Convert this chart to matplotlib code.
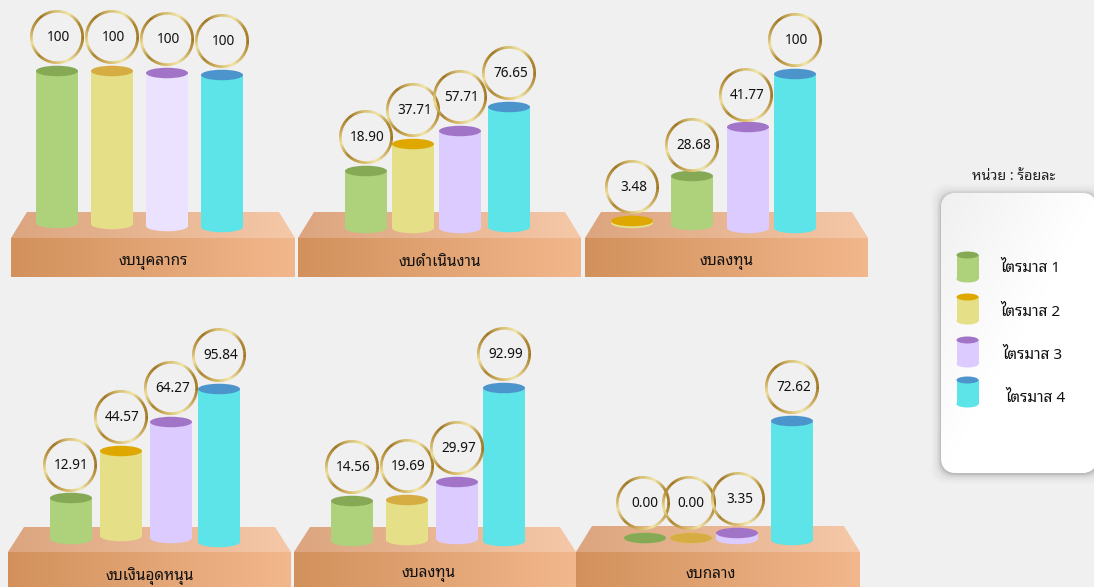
import numpy as np
import matplotlib
matplotlib.use("Agg")
import matplotlib.pyplot as plt
from matplotlib.colors import LinearSegmentedColormap, to_rgb
from matplotlib.patches import Ellipse, FancyBboxPatch, Polygon, Wedge

THAI = ['Noto Sans Thai Looped', 'Noto Sans Thai', 'Sarabun', 'Noto Sans', 'DejaVu Sans']
plt.rcParams['font.family'] = THAI

W, H = 1094, 587
BG = '#f0f0f0'

# budget groups and the labelled percentage of each quarter
groups = ['งบบุคลากร', 'งบดำเนินงาน', 'งบลงทุน', 'งบเงินอุดหนุน', 'งบลงทุน', 'งบกลาง']
quarters = ['ไตรมาส 1', 'ไตรมาส 2', 'ไตรมาส 3', 'ไตรมาส 4']
unit_label = 'หน่วย : ร้อยละ'

personnel = ['100', '100', '100', '100']
operating = ['18.90', '37.71', '57.71', '76.65']
investment = ['3.48', '28.68', '41.77', '100']
subsidy = ['12.91', '44.57', '64.27', '95.84']
investment2 = ['14.56', '19.69', '29.97', '92.99']
central = ['0.00', '0.00', '3.35', '72.62']

# the columns in the picture are hand sized, not proportional to the labels
personnel_h = [152, 153, 153, 152]
operating_h = [57, 84, 97, 120]
investment_h = [2, 49, 101, 154]
subsidy_h = [41, 85, 116, 153]
investment2_h = [40, 40, 57, 153]
central_h = [0, 0, 6, 119]

panel_values = [personnel, operating, investment, subsidy, investment2, central]
panel_heights = [personnel_h, operating_h, investment_h, subsidy_h, investment2_h, central_h]

# layout, image pixels: platform left, right, top, front top, front bottom
panels = [(11, 295, 212, 238, 277), (298, 581, 212, 238, 277), (585, 868, 212, 238, 277),
          (8, 291, 527, 552, 592), (294, 576, 527, 552, 592), (576, 860, 526, 552, 592)]
label_pos = [(153, 263), (440, 263), (727, 263), (150, 576), (429, 575), (711, 575)]
bar_x = [[57, 112, 167, 222], [366, 413, 460, 509], [632, 692, 748, 795],
         [71, 121, 171, 219], [352, 407, 457, 504], [645, 691, 737, 792]]
bar_base = [[223, 224, 226, 227], [228, 228, 228, 227], [223, 225, 228, 228],
            [539, 536, 538, 542], [541, 540, 539, 541], [538, 538, 539, 540]]
# rings that do not sit square on their column: (panel, bar) -> dx, dy
ring_shift = {(2, 1): (0, 3), (2, 2): (-2, 2), (3, 0): (-1, 1),
              (5, 0): (-2, -1), (5, 1): (-2, -1), (5, 2): (1, 0)}

body_colors = ['#aed17c', '#e5df87', '#dccbff', '#5ce4e8']
cap_colors = ['#86a955', '#dfa800', '#a274c8', '#4c94cc']
ring_stops = ['#a0761f', '#c9a95a', '#f1e6a6', '#d2b25c', '#a8802a', '#eedf98',
              '#c09a45', '#9c7420', '#d4bb6c', '#f1e6a6', '#ad852e', '#a0761f']

BAR_W = 42
CAP_H = 10.5
RING_R = 27
RING_LIFT = 34


def pixel_axes(x0, x1, y0, y1, zorder=1):
    # axes whose data coordinates are the image pixels they cover
    ax = fig.add_axes([x0 / W, 1 - y1 / H, (x1 - x0) / W, (y1 - y0) / H], zorder=zorder)
    ax.set_xlim(x0, x1)
    ax.set_ylim(y1, y0)
    ax.axis('off')
    return ax


def gradient(ax, verts, c0, c1):
    # left to right colour ramp clipped to a polygon
    cmap = LinearSegmentedColormap.from_list('g', [c0, c1])
    xlim, ylim = ax.get_xlim(), ax.get_ylim()
    clip = Polygon(verts, closed=True, transform=ax.transData, fc='none', ec='none')
    bb = clip.get_path().get_extents()
    ax.add_patch(clip)
    ramp = np.linspace(0, 1, 256).reshape(1, -1)
    im = ax.imshow(ramp, cmap=cmap, extent=(bb.x0, bb.x1, bb.y1, bb.y0),
                   aspect='auto', interpolation='bilinear', zorder=1)
    im.set_clip_path(clip)
    ax.set_xlim(xlim)
    ax.set_ylim(ylim)


def cylinder(ax, x, base, height, body, cap, w=BAR_W, cap_h=CAP_H, z=3):
    top = base - height
    ax.add_patch(Ellipse((x, base), w, cap_h, fc=body, ec='none', zorder=z, clip_on=False))
    ax.bar([x], [-height], width=w, bottom=base, color=body, linewidth=0, zorder=z, clip_on=False)
    ax.add_patch(Ellipse((x, top), w, cap_h, fc=cap, ec='none', zorder=z + 0.1, clip_on=False))


def gold_ring(ax, x, y, r=RING_R, width=2.7, z=5):
    pos = np.linspace(0, 1, len(ring_stops))
    rgb = np.array([to_rgb(c) for c in ring_stops])
    n = 90
    for i in range(n):
        t = i / n
        col = [np.interp(t, pos, rgb[:, k]) for k in range(3)]
        ax.add_patch(Wedge((x, y), r, 360 * t, 360 * (t + 1 / n) + 0.6, width=width,
                           fc=col, ec='none', zorder=z, clip_on=False))


fig = plt.figure(figsize=(W / 100, H / 100), dpi=100, facecolor=BG)

for i, (x0, x1, top, front, bottom) in enumerate(panels):
    row_top, row_bottom = (0, 290) if i < 3 else (290, H)
    ax = pixel_axes(x0 - 3, x1 + 3, row_top, row_bottom, zorder=2 + i)

    # platform: sloped top then front face
    inset = 16
    gradient(ax, [(x0, front), (x1, front), (x1 - inset, top), (x0 + inset, top)], '#dca57f', '#f5c8a8')
    gradient(ax, [(x0, front), (x1, front), (x1, bottom), (x0, bottom)], '#d2915c', '#f2b78c')
    ax.text(label_pos[i][0], label_pos[i][1], groups[i], ha='center', va='center',
            fontsize=11, color='#111111', zorder=8)

    heights = panel_heights[i]
    values = panel_values[i]
    for j in range(4):
        x = bar_x[i][j]
        base = bar_base[i][j]
        # the third panel has its first two colours swapped in the picture
        k = [1, 0, 2, 3][j] if i == 2 else j
        body = body_colors[k]
        cap = cap_colors[k]
        if i == 0 and j == 2:
            body = '#ebe2ff'
        if j == 1 and i in (0, 4, 5):
            cap = '#d6ad42'
        cylinder(ax, x, base, heights[j], body, cap)
        dx, dy = ring_shift.get((i, j), (0, 0))
        ring_y = base - heights[j] - RING_LIFT + dy
        gold_ring(ax, x + dx, ring_y)
        ax.text(x + dx + 1.5, ring_y + 0.5, values[j], ha='center', va='center', fontsize=9.8,
                family='Noto Sans', color='#111111', zorder=9)

# legend card on the right
lg = pixel_axes(900, W, 0, H, zorder=20)
card_box = dict(boxstyle='round,pad=0,rounding_size=16')
for grow, alpha in zip([10, 8, 6, 4, 2.5, 1], [0.012, 0.015, 0.02, 0.03, 0.05, 0.09]):
    lg.add_patch(FancyBboxPatch((941 - grow, 193 - grow + 1), 156 + 2 * grow, 280 + 2 * grow, fc='black', ec='none',
                                alpha=alpha, zorder=1, clip_on=False, **card_box))
card = FancyBboxPatch((941, 193), 156, 280, fc='white', ec='none', zorder=2, **card_box)
lg.add_patch(card)
cmap = LinearSegmentedColormap.from_list('card', ['#f0f0f0', '#ffffff', '#ffffff'])
xx, yy = np.meshgrid(np.linspace(0, 1, 64), np.linspace(0, 1, 64))
im = lg.imshow((xx + yy) / 2, cmap=cmap, extent=(941, 1097, 473, 193), aspect='auto', zorder=2.5)
im.set_clip_path(card)
lg.set_xlim(900, W)
lg.set_ylim(H, 0)

lg.text(1014, 177, unit_label, ha='center', va='center', fontsize=10.3, weight=600, color='#222222', zorder=5)
legend_base = [279, 321, 364, 404]
legend_text_x = [1030, 1030, 1032, 1035]
legend_text_y = [268, 312, 355, 398]
for j, q in enumerate(quarters):
    cylinder(lg, 967.5, legend_base[j], 24, body_colors[j], cap_colors[j], w=22, cap_h=7, z=4)
    lg.text(legend_text_x[j], legend_text_y[j], q, ha='center', va='center', fontsize=11, color='#111111', zorder=5)

fig.savefig('out.png', dpi=100, facecolor=BG)
